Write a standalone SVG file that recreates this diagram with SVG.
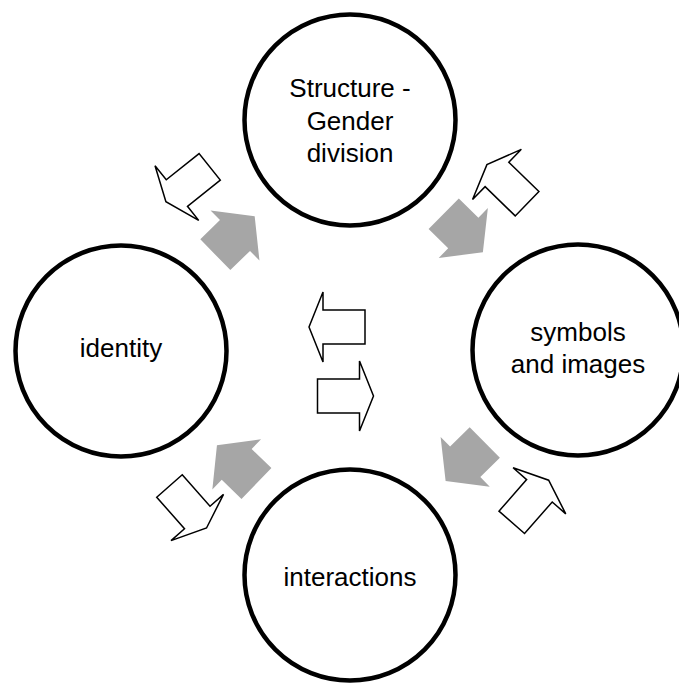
<svg xmlns="http://www.w3.org/2000/svg" xmlns:xlink="http://www.w3.org/1999/xlink" width="679" height="689" viewBox="0 0 679 689">
<style>
.node{fill:#ffffff;stroke:#000000;stroke-width:4.5}
.lbl{font-family:"Liberation Sans",Arial,sans-serif;font-size:26px;fill:#000000;text-anchor:middle}
.wa{fill:#ffffff;stroke:#000000;stroke-width:1.5;stroke-linejoin:miter}
.ga{fill:#a6a6a6;stroke:none}
</style>
<defs>
<path id="whiteArrow" class="wa" d="M-28,-17 H14 V-35 L28,0 L14,35 V17 H-28 Z"/>
<path id="grayArrow" class="ga" d="M-27.5,-21.5 H0 V-35 L27.5,0 L0,35 V21.5 H-27.5 Z"/>
</defs>
<rect width="679" height="689" fill="#ffffff"/>
<g id="connectors">
<use xlink:href="#whiteArrow" transform="translate(337,327) rotate(180)"/>
<use xlink:href="#whiteArrow" transform="translate(345.5,396)"/>
<use xlink:href="#whiteArrow" transform="translate(187.8,184.3) rotate(141.4)"/>
<use xlink:href="#whiteArrow" transform="translate(507,184.2) rotate(-135.8)"/>
<use xlink:href="#whiteArrow" transform="translate(188,507) rotate(48.6)"/>
<use xlink:href="#whiteArrow" transform="translate(530.2,501.3) rotate(-48.8)"/>
<use xlink:href="#grayArrow" transform="translate(235,235.5) rotate(-44.3)"/>
<use xlink:href="#grayArrow" transform="translate(463.3,233) rotate(44.6)"/>
<use xlink:href="#grayArrow" transform="translate(236.7,464.4) rotate(-135.9)"/>
<use xlink:href="#grayArrow" transform="translate(465.2,461.8) rotate(135.4)"/>
</g>
<g id="node-structure">
<circle class="node" cx="350" cy="120" r="105.5"/>
<text class="lbl" x="350" y="97">Structure -</text>
<text class="lbl" x="350" y="129.5">Gender</text>
<text class="lbl" x="350" y="162">division</text>
</g>
<g id="node-identity">
<circle class="node" cx="121" cy="351" r="105.5"/>
<text class="lbl" x="121" y="357">identity</text>
</g>
<g id="node-symbols">
<circle class="node" cx="578" cy="350" r="105.5"/>
<text class="lbl" x="578" y="341">symbols</text>
<text class="lbl" x="578" y="373">and images</text>
</g>
<g id="node-interactions">
<circle class="node" cx="350" cy="575" r="105.5"/>
<text class="lbl" x="350" y="586">interactions</text>
</g>
</svg>
